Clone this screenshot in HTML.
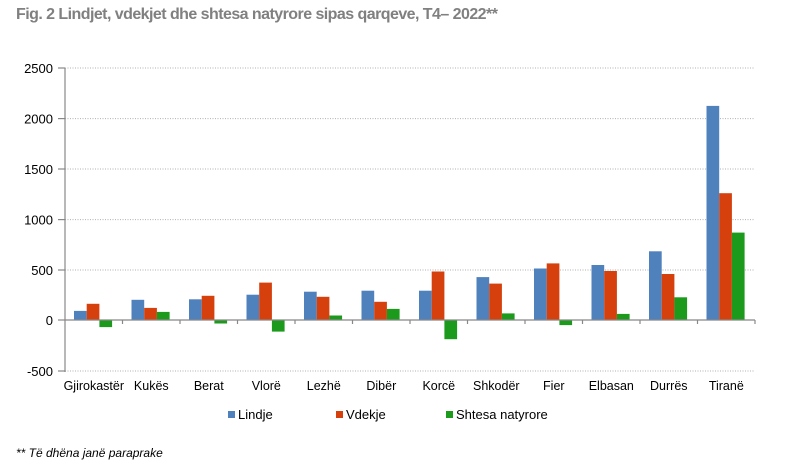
<!DOCTYPE html>
<html><head><meta charset="utf-8"><style>body{margin:0;background:#fff}svg{display:block}</style></head><body>
<svg width="791" height="472" xmlns="http://www.w3.org/2000/svg" font-family="Liberation Sans, sans-serif">
<text x="16" y="19" font-size="16" font-weight="bold" fill="#808080" letter-spacing="-0.55">Fig. 2 Lindjet, vdekjet dhe shtesa natyrore sipas qarqeve, T4– 2022**</text>
<g stroke="#b0b0b0" stroke-dasharray="1,1.5" stroke-width="1">
<line x1="65" x2="755" y1="68" y2="68"/><line x1="65" x2="755" y1="118.6" y2="118.6"/><line x1="65" x2="755" y1="169" y2="169"/><line x1="65" x2="755" y1="219.6" y2="219.6"/><line x1="65" x2="755" y1="270" y2="270"/><line x1="65" x2="755" y1="371" y2="371"/>
</g>
<g font-size="13" fill="#000" text-anchor="end">
<text x="53" y="73">2500</text><text x="53" y="123.6">2000</text><text x="53" y="174">1500</text><text x="53" y="224.6">1000</text><text x="53" y="275">500</text><text x="53" y="325">0</text><text x="53" y="376">-500</text>
</g>
<g fill="#4f81bd">
<rect x="74" y="310.9" width="12.7" height="9.1"/><rect x="131.5" y="299.8" width="12.7" height="20.2"/><rect x="189" y="299.3" width="12.7" height="20.7"/><rect x="246.5" y="294.7" width="12.7" height="25.3"/><rect x="304" y="291.7" width="12.7" height="28.3"/><rect x="361.5" y="290.7" width="12.7" height="29.3"/><rect x="419" y="290.7" width="12.7" height="29.3"/><rect x="476.5" y="277.1" width="12.7" height="42.9"/><rect x="534" y="268.5" width="12.7" height="51.5"/><rect x="591.5" y="265" width="12.7" height="55"/><rect x="649" y="251.3" width="12.7" height="68.7"/><rect x="706.5" y="105.9" width="12.7" height="214.1"/>
</g>
<g fill="#d5400d">
<rect x="86.7" y="303.8" width="12.7" height="16.2"/><rect x="144.2" y="307.9" width="12.7" height="12.1"/><rect x="201.7" y="295.8" width="12.7" height="24.2"/><rect x="259.2" y="282.6" width="12.7" height="37.4"/><rect x="316.7" y="296.8" width="12.7" height="23.2"/><rect x="374.2" y="301.8" width="12.7" height="18.2"/><rect x="431.7" y="271.5" width="12.7" height="48.5"/><rect x="489.2" y="283.6" width="12.7" height="36.4"/><rect x="546.7" y="263.4" width="12.7" height="56.6"/><rect x="604.2" y="271" width="12.7" height="49"/><rect x="661.7" y="274" width="12.7" height="46"/><rect x="719.2" y="193.2" width="12.7" height="126.8"/>
</g>
<g fill="#1c9a1c">
<rect x="99.4" y="320" width="12.7" height="7.1"/><rect x="156.9" y="311.9" width="12.7" height="8.1"/><rect x="214.4" y="320" width="12.7" height="3.5"/><rect x="271.9" y="320" width="12.7" height="11.6"/><rect x="329.4" y="315.5" width="12.7" height="4.5"/><rect x="386.9" y="308.9" width="12.7" height="11.1"/><rect x="444.4" y="320" width="12.7" height="19.2"/><rect x="501.9" y="313.4" width="12.7" height="6.6"/><rect x="559.4" y="320" width="12.7" height="5.1"/><rect x="616.9" y="313.9" width="12.7" height="6.1"/><rect x="674.4" y="297.3" width="12.7" height="22.7"/><rect x="731.9" y="232.6" width="12.7" height="87.4"/>
</g>
<g stroke="#888" stroke-width="1.2">
<line x1="65" x2="65" y1="68" y2="372"/><line x1="58" x2="65" y1="68" y2="68"/><line x1="58" x2="65" y1="118.6" y2="118.6"/><line x1="58" x2="65" y1="169" y2="169"/><line x1="58" x2="65" y1="219.6" y2="219.6"/><line x1="58" x2="65" y1="270" y2="270"/><line x1="58" x2="65" y1="320" y2="320"/><line x1="58" x2="65" y1="371" y2="371"/>
<line x1="65" x2="755" y1="320" y2="320"/>
<line x1="122.5" x2="122.5" y1="320" y2="324"/><line x1="180" x2="180" y1="320" y2="324"/><line x1="237.5" x2="237.5" y1="320" y2="324"/><line x1="295" x2="295" y1="320" y2="324"/><line x1="352.5" x2="352.5" y1="320" y2="324"/><line x1="410" x2="410" y1="320" y2="324"/><line x1="467.5" x2="467.5" y1="320" y2="324"/><line x1="525" x2="525" y1="320" y2="324"/><line x1="582.5" x2="582.5" y1="320" y2="324"/><line x1="640" x2="640" y1="320" y2="324"/><line x1="697.5" x2="697.5" y1="320" y2="324"/><line x1="755" x2="755" y1="320" y2="324"/>
</g>
<g font-size="12.5" fill="#000" text-anchor="middle">
<text x="93.8" y="390">Gjirokastër</text><text x="151.3" y="390">Kukës</text><text x="208.8" y="390">Berat</text><text x="266.3" y="390">Vlorë</text><text x="323.8" y="390">Lezhë</text><text x="381.3" y="390">Dibër</text><text x="438.8" y="390">Korcë</text><text x="496.3" y="390">Shkodër</text><text x="553.8" y="390">Fier</text><text x="611.3" y="390">Elbasan</text><text x="668.8" y="390">Durrës</text><text x="726.3" y="390">Tiranë</text>
</g>
<rect x="228" y="411" width="7" height="7" fill="#4f81bd"/><text x="238" y="419" font-size="13">Lindje</text>
<rect x="336" y="411" width="7" height="7" fill="#d5400d"/><text x="346" y="419" font-size="13">Vdekje</text>
<rect x="446" y="411" width="7" height="7" fill="#1c9a1c"/><text x="456" y="419" font-size="13">Shtesa natyrore</text>
<text x="16" y="457" font-size="12" font-style="italic" fill="#000">** Të dhëna janë paraprake</text>
</svg>
</body></html>
